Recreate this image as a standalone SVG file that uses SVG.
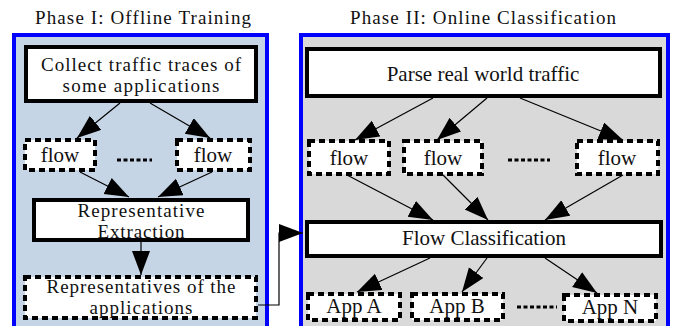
<svg xmlns="http://www.w3.org/2000/svg" width="681" height="326" viewBox="0 0 681 326">
<defs>
<marker id="ah" markerUnits="userSpaceOnUse" markerWidth="26" markerHeight="20" refX="24" refY="9" orient="auto">
<path d="M0,0 L24,9 L0,18 z" fill="#000"/>
</marker>
<style>
.t{font-family:"Liberation Serif","DejaVu Serif",serif;font-size:21px;fill:#111;text-anchor:middle}
.m{font-family:"Liberation Serif","DejaVu Serif",serif;font-size:19px;fill:#111;text-anchor:middle}
.h{font-family:"Liberation Serif","DejaVu Serif",serif;font-size:19px;fill:#111;text-anchor:middle}
.solid{fill:#fff;stroke:#000;stroke-width:4}
.dash{fill:#fff;stroke:#000;stroke-width:4;stroke-dasharray:6 4}
.dots{stroke:#000;stroke-width:3;stroke-dasharray:4 2.5}
.c{fill:none;stroke:#000;stroke-width:1.2;marker-end:url(#ah)}
</style>
</defs>
<rect width="681" height="326" fill="#fff"/>
<text class="h" x="143" y="24" textLength="216" lengthAdjust="spacing">Phase I: Offline Training</text>
<text class="h" x="483" y="24" textLength="266" lengthAdjust="spacing">Phase II: Online Classification</text>
<g id="phase1"><rect x="14" y="35" width="253" height="300" fill="#c6d5e6" stroke="#0000ff" stroke-width="4"/></g>
<g id="phase2"><rect x="301" y="35" width="367" height="300" fill="#d9d9d9" stroke="#0000ff" stroke-width="4"/></g>
<g id="connectors">
<line class="c" x1="120" y1="103" x2="77" y2="138"/>
<line class="c" x1="150" y1="103" x2="210" y2="138"/>
<line class="c" x1="80" y1="172" x2="129" y2="197"/>
<line class="c" x1="212" y1="172" x2="158" y2="197"/>
<line class="c" x1="141" y1="242" x2="141" y2="275"/>
<polyline class="c" points="258,305 279,305 279,233 303,233"/>
<line class="c" x1="433" y1="98" x2="355" y2="140"/>
<line class="c" x1="487" y1="98" x2="437" y2="140"/>
<line class="c" x1="520" y1="98" x2="623" y2="140"/>
<line class="c" x1="347" y1="175" x2="433" y2="220"/>
<line class="c" x1="443" y1="175" x2="488" y2="220"/>
<line class="c" x1="623" y1="175" x2="545" y2="220"/>
<line class="c" x1="430" y1="258" x2="357" y2="292"/>
<line class="c" x1="487" y1="258" x2="462" y2="292"/>
<line class="c" x1="545" y1="258" x2="597" y2="293"/>
</g>
<g id="collect"><rect class="solid" x="26" y="47" width="230" height="54"/><text class="m" x="141" y="71" textLength="200" lengthAdjust="spacing">Collect traffic traces of</text><text class="m" x="141" y="92" textLength="157" lengthAdjust="spacing">some applications</text></g>
<g id="flowL1"><rect class="dash" x="25" y="140" width="70" height="30"/><text class="t" x="60" y="162">flow</text></g>
<g id="dotsL"><line class="dots" x1="117" y1="160" x2="152" y2="160"/></g>
<g id="flowL2"><rect class="dash" x="177" y="140" width="73" height="30"/><text class="t" x="213" y="162">flow</text></g>
<g id="repExtract"><rect class="solid" x="34" y="200" width="214" height="40"/><text class="m" x="141" y="217" textLength="127" lengthAdjust="spacing">Representative</text><text class="m" x="141" y="238" textLength="87" lengthAdjust="spacing">Extraction</text></g>
<g id="reps"><rect class="dash" x="25" y="277" width="231" height="41"/><text class="m" x="141" y="293" textLength="189" lengthAdjust="spacing">Representatives of the</text><text class="m" x="141" y="314" textLength="103" lengthAdjust="spacing">applications</text></g>
<g id="parse"><rect class="solid" x="307" y="49" width="353" height="47"/><text class="t" x="483" y="81">Parse real world traffic</text></g>
<g id="flowR1"><rect class="dash" x="309" y="141" width="80" height="33"/><text class="t" x="349" y="165">flow</text></g>
<g id="flowR2"><rect class="dash" x="404" y="141" width="78" height="33"/><text class="t" x="443" y="165">flow</text></g>
<g id="dotsR"><line class="dots" x1="508" y1="160" x2="550" y2="160"/></g>
<g id="flowR3"><rect class="dash" x="577" y="141" width="81" height="33"/><text class="t" x="617" y="165">flow</text></g>
<g id="classify"><rect class="solid" x="307" y="222" width="354" height="34"/><text class="t" x="484" y="245">Flow Classification</text></g>
<g id="appA"><rect class="dash" x="308" y="294" width="92" height="26"/><text class="t" x="354" y="313">App A</text></g>
<g id="appB"><rect class="dash" x="412" y="294" width="91" height="26"/><text class="t" x="457" y="313">App B</text></g>
<g id="dotsApp"><line class="dots" x1="517" y1="307" x2="557" y2="307"/></g>
<g id="appN"><rect class="dash" x="564" y="295" width="92" height="26"/><text class="t" x="610" y="314">App N</text></g>
</svg>
